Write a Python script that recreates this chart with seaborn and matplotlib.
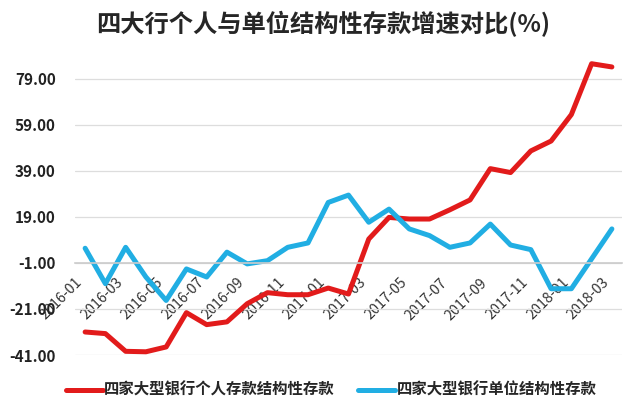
import matplotlib
matplotlib.use('Agg')
import matplotlib.pyplot as plt
import seaborn as sns
import pandas as pd
import numpy as np

months = ['2016-01', '2016-02', '2016-03', '2016-04', '2016-05', '2016-06', '2016-07',
          '2016-08', '2016-09', '2016-10', '2016-11', '2016-12', '2017-01', '2017-02',
          '2017-03', '2017-04', '2017-05', '2017-06', '2017-07', '2017-08', '2017-09',
          '2017-10', '2017-11', '2017-12', '2018-01', '2018-02', '2018-03']

personal = [-31.0, -31.7, -39.4, -39.6, -37.5, -22.6, -27.8, -26.6, -18.7, -13.9,
            -14.8, -14.8, -11.9, -14.5, 9.4, 18.8, 18.1, 18.1, 22.1, 26.4,
            40.0, 38.3, 47.7, 52.0, 63.5, 85.6, 84.2]

corporate = [5.4, -10.0, 5.8, -7.1, -17.3, -3.6, -7.1, 3.7, -1.4, 0.0,
             5.8, 7.7, 25.3, 28.5, 16.7, 22.4, 13.8, 10.9, 5.8, 7.7,
             15.9, 6.8, 4.8, -12.2, -12.2, 0.8, 13.8]

name_personal = '四家大型银行个人存款结构性存款'
name_corporate = '四家大型银行单位结构性存款'
y_ticks = [-41, -21, -1, 19, 39, 59, 79]

df = pd.DataFrame({'idx': range(len(months)), name_personal: personal, name_corporate: corporate})
df_long = pd.melt(df, id_vars=['idx'], var_name='series', value_name='value')

sns.set_style('white')
plt.rcParams['font.family'] = ['Noto Sans CJK SC', 'DejaVu Sans']

fig = plt.figure(figsize=(6.32, 3.99), dpi=100)
ax = fig.add_axes([75 / 632, 44 / 399, 547 / 632, (355 - 49) / 399])

sns.lineplot(data=df_long, x='idx', y='value', hue='series',
             palette={name_personal: '#E21B1B', name_corporate: '#21AEE3'},
             linewidth=3.6, ax=ax)

# spine position first: moving it rebuilds the ticks
for s in ['top', 'right', 'left']:
    ax.spines[s].set_visible(False)
ax.spines['bottom'].set_position(('data', -1))
ax.spines['bottom'].set_color('#CCCCCC')
ax.spines['bottom'].set_linewidth(1.2)

ax.set_xlim(-0.5, len(months) - 0.5)
ax.set_ylim(-41, 92)
ax.set_yticks(y_ticks)
ax.set_yticklabels(['%.2f' % v for v in y_ticks], fontsize=11, fontweight='bold', color='#222222')
ax.yaxis.grid(True, color='#DDDDDD', linewidth=0.9)
ax.set_axisbelow(True)

ax.set_xticks(np.arange(-0.5, len(months), 2), minor=True)
ax.tick_params(axis='x', which='major', length=0, pad=9)
ax.tick_params(axis='x', which='minor', length=5, direction='inout', color='#CCCCCC')
ax.tick_params(axis='y', length=0, pad=14)
ax.set_xticks(range(0, len(months), 2), labels=months[::2], rotation=45,
              ha='right', va='top', fontsize=10.3, color='#333333')

ax.set_xlabel('')
ax.set_ylabel('')

handles, labels = ax.get_legend_handles_labels()
ax.legend(handles, labels, loc='center', bbox_to_anchor=(331 / 632, 1 - 390 / 399),
          ncol=2, frameon=False, prop={'size': 11.1, 'weight': 'bold'},
          handlelength=2.4, handletextpad=0.1, columnspacing=1.5,
          borderaxespad=0, borderpad=0,
          bbox_transform=fig.transFigure)

fig.text(323 / 632, 1 - 24 / 399, '四大行个人与单位结构性存款增速对比(%)',
         ha='center', va='center', fontsize=17.5, fontweight='bold')

plt.savefig('out.png', dpi=100)
